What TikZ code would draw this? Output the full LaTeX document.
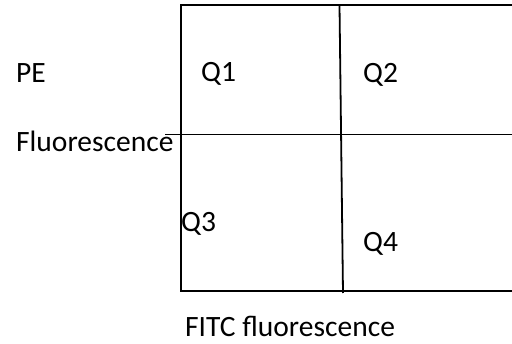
\documentclass[tikz,border=0pt]{standalone}
\usepackage{fontspec}
\setmainfont{Carlito}
\begin{document}
\begin{tikzpicture}[x=1pt,y=-1pt,
  lbl/.style={anchor=base west,inner sep=0pt,font=\fontsize{29.5}{35}\selectfont},
  ln/.style={line width=1.8pt,black}]
\useasboundingbox (0,0) rectangle (512,344);
% frame coordinates
\coordinate (tl) at (181,5);
\coordinate (tr) at (513,5);
\coordinate (bl) at (181,291);
\coordinate (br) at (513,291);
\coordinate (vt) at (339.5,5);
\coordinate (vb) at (343,293);
\coordinate (hl) at (165,134.5);
\coordinate (hr) at (513,134.5);
\draw[ln] (tr) -- (tl) -- (bl) -- (br);
\draw[ln] (vt) -- (vb);
\draw[ln] (hl) -- (hr);
% labels
\node[lbl] (pe) at (16,83) {PE};
\node[lbl] (fl) at (16,152) {Fluorescence};
\node[lbl] (q1) at (201,82) {Q1};
\node[lbl] (q2) at (363,83) {Q2};
\node[lbl] (q3) at (181,232) {Q3};
\node[lbl] (q4) at (363,252) {Q4};
\node[lbl] (fitc) at (185,337) {FITC fluorescence};
\end{tikzpicture}
\end{document}
